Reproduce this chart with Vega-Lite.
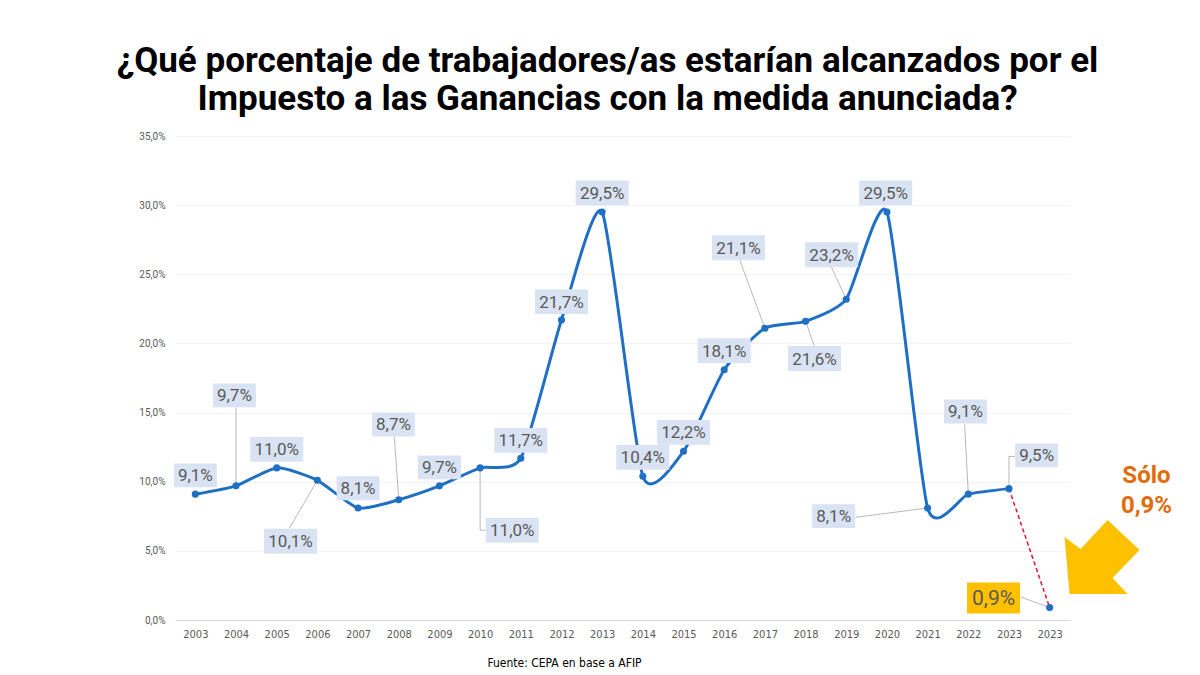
{
  "$schema": "https://vega.github.io/schema/vega-lite/v6.json",
  "width": 895,
  "height": 484,
  "autosize": {"type": "none"},
  "padding": {"left": 175, "top": 136, "right": 130, "bottom": 55},
  "background": "white",
  "title": {
    "text": ["¿Qué porcentaje de trabajadores/as estarían alcanzados por el", "Impuesto a las Ganancias con la medida anunciada?"],
    "font": "Roboto",
    "fontWeight": "bold",
    "fontSize": 35,
    "color": "#000000",
    "anchor": "middle",
    "dx": -15,
    "offset": 14,
    "lineHeight": 38
  },
  "config": {
    "view": {"stroke": null},
    "font": "Roboto"
  },
  "datasets": {
    "series": [
      {"i": 0, "year": "2003", "v": 9.1, "label": "9,1%", "lx": 0, "ly": 10.46},
      {"i": 1, "year": "2004", "v": 9.7, "label": "9,7%", "lx": 0.96, "ly": 16.24},
      {"i": 2, "year": "2005", "v": 11.0, "label": "11,0%", "lx": 2.0, "ly": 12.34},
      {"i": 3, "year": "2006", "v": 10.1, "label": "10,1%", "lx": 2.34, "ly": 5.7},
      {"i": 4, "year": "2007", "v": 8.1, "label": "8,1%", "lx": 4.0, "ly": 9.53},
      {"i": 5, "year": "2008", "v": 8.7, "label": "8,7%", "lx": 4.87, "ly": 14.14},
      {"i": 6, "year": "2009", "v": 9.7, "label": "9,7%", "lx": 6.0, "ly": 11.04},
      {"i": 7, "year": "2010", "v": 11.0, "label": "11,0%", "lx": 7.79, "ly": 6.49},
      {"i": 8, "year": "2011", "v": 11.7, "label": "11,7%", "lx": 8.0, "ly": 12.99},
      {"i": 9, "year": "2012", "v": 21.7, "label": "21,7%", "lx": 9.0, "ly": 23.02},
      {"i": 10, "year": "2013", "v": 29.5, "label": "29,5%", "lx": 10.0, "ly": 30.89},
      {"i": 11, "year": "2014", "v": 10.4, "label": "10,4%", "lx": 11.0, "ly": 11.76},
      {"i": 12, "year": "2015", "v": 12.2, "label": "12,2%", "lx": 12.0, "ly": 13.57},
      {"i": 13, "year": "2016", "v": 18.1, "label": "18,1%", "lx": 13.0, "ly": 19.48},
      {"i": 14, "year": "2017", "v": 21.1, "label": "21,1%", "lx": 13.35, "ly": 26.92},
      {"i": 15, "year": "2018", "v": 21.6, "label": "21,6%", "lx": 15.22, "ly": 18.91},
      {"i": 16, "year": "2019", "v": 23.2, "label": "23,2%", "lx": 15.64, "ly": 26.41},
      {"i": 17, "year": "2020", "v": 29.5, "label": "29,5%", "lx": 16.97, "ly": 30.89},
      {"i": 18, "year": "2021", "v": 8.1, "label": "8,1%", "lx": 15.69, "ly": 7.51},
      {"i": 19, "year": "2022", "v": 9.1, "label": "9,1%", "lx": 18.93, "ly": 15.08},
      {"i": 20, "year": "2023", "v": 9.5, "label": "9,5%", "lx": 20.68, "ly": 11.9},
      {"i": 21, "year": "2023", "v": 0.9, "label": "0,9%", "lx": 19.62, "ly": 1.59}
    ],
    "leaders": [
      {"g": "a", "o": 0, "x": 1, "y": 9.7}, {"g": "a", "o": 1, "x": 1.0, "y": 15.37},
      {"g": "b", "o": 0, "x": 3, "y": 10.1}, {"g": "b", "o": 1, "x": 2.31, "y": 6.64},
      {"g": "c", "o": 0, "x": 5, "y": 8.7}, {"g": "c", "o": 1, "x": 4.89, "y": 13.27},
      {"g": "d", "o": 0, "x": 7, "y": 11.0}, {"g": "d", "o": 1, "x": 7, "y": 6.49}, {"g": "d", "o": 2, "x": 7.13, "y": 6.49},
      {"g": "e", "o": 0, "x": 14, "y": 21.1}, {"g": "e", "o": 1, "x": 13.38, "y": 26.05},
      {"g": "f", "o": 0, "x": 15, "y": 21.6}, {"g": "f", "o": 1, "x": 15.22, "y": 19.77},
      {"g": "g", "o": 0, "x": 16, "y": 23.2}, {"g": "g", "o": 1, "x": 15.62, "y": 25.62},
      {"g": "h", "o": 0, "x": 18, "y": 8.1}, {"g": "h", "o": 1, "x": 16.23, "y": 7.43},
      {"g": "i", "o": 0, "x": 19, "y": 9.1}, {"g": "i", "o": 1, "x": 18.91, "y": 14.14},
      {"g": "j", "o": 0, "x": 20, "y": 9.5}, {"g": "j", "o": 1, "x": 20, "y": 11.83}, {"g": "j", "o": 2, "x": 20.15, "y": 11.83},
      {"g": "k", "o": 0, "x": 21, "y": 0.9}, {"g": "k", "o": 1, "x": 20.29, "y": 1.66}
    ],
    "callout": [
      {"x": 22.3, "y": 4.55, "text": "Sólo\n0,9%", "tx": 23.38, "ty": 10.4}
    ]
  },
  "layer": [
    {
      "data": {"name": "series"},
      "transform": [{"filter": "datum.i <= 20"}],
      "mark": {"type": "line", "interpolate": "cardinal", "tension": 0.4, "color": "#1F6FC5", "strokeWidth": 3},
      "encoding": {
        "x": {
          "field": "i", "type": "quantitative",
          "scale": {"domain": [-0.5, 21.5], "nice": false, "zero": false},
          "axis": {
            "values": [0,1,2,3,4,5,6,7,8,9,10,11,12,13,14,15,16,17,18,19,20,21],
            "labelExpr": "datum.value == 21 ? '2023' : '' + (2003 + datum.value)",
            "grid": false, "ticks": false,
            "domainColor": "#d9d9d9", "domainWidth": 1,
            "labelColor": "#595959", "labelFont": "'Liberation Sans Narrow', 'DejaVu Sans Condensed', 'Open Sans', sans-serif", "labelFontSize": 11,
            "labelPadding": 8, "labelFlush": false, "labelOverlap": false,
            "title": "Fuente: CEPA en base a AFIP",
            "titleFont": "'Liberation Sans Narrow', 'DejaVu Sans Condensed', 'Open Sans', sans-serif", "titleFontSize": 12, "titleFontWeight": "normal",
            "titleColor": "#000000", "titleX": 389, "titleY": 42, "titleBaseline": "middle", "titleAlign": "center"
          }
        },
        "y": {
          "field": "v", "type": "quantitative",
          "scale": {"domain": [0, 35], "nice": false},
          "axis": {
            "values": [0, 5, 10, 15, 20, 25, 30, 35],
            "labelExpr": "replace(format(datum.value, '.1f'), '.', ',') + '%'",
            "domain": false, "ticks": false,
            "gridColor": "#f2f2f2", "gridWidth": 1,
            "labelColor": "#595959", "labelFont": "Roboto", "labelFontSize": 10,
            "labelPadding": 10, "title": null
          }
        }
      }
    },
    {
      "data": {"name": "series"},
      "transform": [{"filter": "datum.i >= 20"}],
      "mark": {"type": "line", "color": "#E3122E", "strokeWidth": 1.5, "strokeDash": [4, 3]},
      "encoding": {
        "x": {"field": "i", "type": "quantitative"},
        "y": {"field": "v", "type": "quantitative"}
      }
    },
    {
      "data": {"name": "leaders"},
      "mark": {"type": "line", "color": "#a6a6a6", "strokeWidth": 0.8},
      "encoding": {
        "x": {"field": "x", "type": "quantitative"},
        "y": {"field": "y", "type": "quantitative"},
        "detail": {"field": "g"},
        "order": {"field": "o"}
      }
    },
    {
      "data": {"name": "series"},
      "mark": {"type": "point", "shape": "circle", "filled": true, "size": 50, "color": "#1F6FC5", "opacity": 1},
      "encoding": {
        "x": {"field": "i", "type": "quantitative"},
        "y": {"field": "v", "type": "quantitative"}
      }
    },
    {
      "data": {"name": "series"},
      "transform": [{"filter": "datum.i < 21"}],
      "mark": {"type": "point", "filled": true, "size": 2809, "color": "#DAE3F3", "opacity": 1, "strokeWidth": 0},
      "encoding": {
        "x": {"field": "lx", "type": "quantitative"},
        "y": {"field": "ly", "type": "quantitative"},
        "shape": {
          "condition": {"test": "length(datum.label) > 4", "value": "M-1,-0.47L1,-0.47L1,0.47L-1,0.47Z"},
          "value": "M-0.81,-0.45L0.81,-0.45L0.81,0.45L-0.81,0.45Z"
        }
      }
    },
    {
      "data": {"name": "series"},
      "transform": [{"filter": "datum.i == 21"}],
      "mark": {"type": "point", "filled": true, "size": 2809, "color": "#FFC000", "opacity": 1, "strokeWidth": 0, "shape": "M-1,-0.585L1,-0.585L1,0.585L-1,0.585Z"},
      "encoding": {
        "x": {"field": "lx", "type": "quantitative"},
        "y": {"field": "ly", "type": "quantitative"}
      }
    },
    {
      "data": {"name": "series"},
      "transform": [{"filter": "datum.i < 21"}],
      "mark": {"type": "text", "font": "Roboto", "fontSize": 17, "color": "#595959", "align": "center", "baseline": "middle", "dy": 1},
      "encoding": {
        "x": {"field": "lx", "type": "quantitative"},
        "y": {"field": "ly", "type": "quantitative"},
        "text": {"field": "label"}
      }
    },
    {
      "data": {"name": "series"},
      "transform": [{"filter": "datum.i == 21"}],
      "mark": {"type": "text", "font": "Roboto", "fontSize": 21, "color": "#595959", "align": "center", "baseline": "middle", "dy": 1},
      "encoding": {
        "x": {"field": "lx", "type": "quantitative"},
        "y": {"field": "ly", "type": "quantitative"},
        "text": {"field": "label"}
      }
    },
    {
      "data": {"name": "callout"},
      "mark": {"type": "point", "filled": true, "size": 6400, "color": "#FFC000", "opacity": 1, "strokeWidth": 0,
        "shape": "M-0.825,0.925L0.625,0.925L0.25,0.525L0.925,-0.175L0.125,-0.925L-0.55,-0.2L-0.95,-0.5Z"},
      "encoding": {
        "x": {"field": "x", "type": "quantitative"},
        "y": {"field": "y", "type": "quantitative"}
      }
    },
    {
      "data": {"name": "callout"},
      "mark": {"type": "text", "font": "Roboto", "fontWeight": "bold", "fontSize": 24, "color": "#E26B0A", "align": "center", "baseline": "middle", "lineBreak": "\n", "lineHeight": 30},
      "encoding": {
        "x": {"field": "tx", "type": "quantitative"},
        "y": {"field": "ty", "type": "quantitative"},
        "text": {"field": "text"}
      }
    }
  ]
}
